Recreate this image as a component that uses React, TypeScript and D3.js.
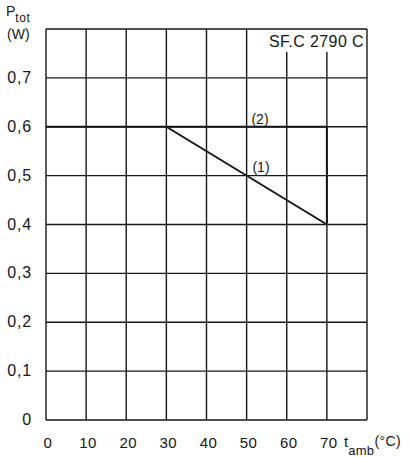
import * as d3 from 'd3'
import React from 'react'

// ambient temperature grid (°C) and power grid (W)
const tempTicks = [0, 10, 20, 30, 40, 50, 60, 70, 80]
const tempLabels = ['0', '10', '20', '30', '40', '50', '60', '70']
const powerTicks = [0, 0.1, 0.2, 0.3, 0.4, 0.5, 0.6, 0.7, 0.8]
const powerLabels = ['0', '0,1', '0,2', '0,3', '0,4', '0,5', '0,6', '0,7']

// derating curves
const curve1Temp = [0, 30, 70]
const curve1Power = [0.6, 0.6, 0.4]
const curve2Temp = [30, 70, 70]
const curve2Power = [0.6, 0.6, 0.4]

const W = 411
const H = 457
const FONT = '"Liberation Sans", Arial, Helvetica, sans-serif'

export default function App() {
  const ref = React.useRef<SVGSVGElement>(null)

  React.useEffect(() => {
    const svg = d3.select(ref.current)
    svg.selectAll('*').remove()

    const x = d3.scaleLinear().domain([0, 80]).range([46, 367])
    const y = d3.scaleLinear().domain([0, 0.8]).range([420, 29])
    const ink = '#161616'

    const grid = svg.append('g').attr('stroke', ink).attr('stroke-width', 1.4)

    // horizontal lines
    grid.selectAll('.h')
      .data(powerTicks)
      .enter().append('line')
      .attr('x1', x(0)).attr('x2', x(80))
      .attr('y1', d => y(d)).attr('y2', d => y(d))

    // vertical lines, 60 and 70 leave room for the type label
    grid.selectAll('.v')
      .data(tempTicks)
      .enter().append('line')
      .attr('x1', d => x(d)).attr('x2', d => x(d))
      .attr('y1', d => (d === 60 || d === 70 ? y(0.8) + 23 : y(0.8)))
      .attr('y2', y(0))

    const line = d3.line<number>()
      .x(d => x(d))

    const drawCurve = (ts: number[], ps: number[]) => {
      svg.append('path')
        .attr('d', line.y((_, i) => y(ps[i]))(ts))
        .attr('fill', 'none')
        .attr('stroke', ink)
        .attr('stroke-width', 2)
        .attr('stroke-linejoin', 'round')
    }
    drawCurve(curve1Temp, curve1Power)
    drawCurve(curve2Temp, curve2Power)

    const text = svg.append('g')
      .attr('fill', ink)
      .attr('font-family', FONT)

    text.selectAll('.yl')
      .data(powerLabels)
      .enter().append('text')
      .attr('x', 32)
      .attr('y', (_, i) => y(powerTicks[i]) + 5)
      .attr('text-anchor', 'end')
      .attr('font-size', 16)
      .attr('letter-spacing', 0.8)
      .text(d => d)

    text.selectAll('.xl')
      .data(tempLabels)
      .enter().append('text')
      .attr('x', (_, i) => x(tempTicks[i]) + 2)
      .attr('y', 448)
      .attr('text-anchor', 'middle')
      .attr('font-size', 15)
      .attr('letter-spacing', 0.5)
      .text(d => d)

    // axis titles
    const yt = text.append('text').attr('x', 6).attr('y', 16).attr('font-size', 14)
    yt.append('tspan').text('P')
    yt.append('tspan').attr('dy', 6).attr('font-size', 12).attr('letter-spacing', 0.6).text('tot')
    text.append('text').attr('x', 7).attr('y', 39).attr('font-size', 14).text('(W)')

    const xt = text.append('text').attr('x', 344).attr('y', 447).attr('font-size', 15)
    xt.append('tspan').text('t')
    xt.append('tspan').attr('dy', 8).attr('font-size', 13).attr('letter-spacing', 0.3).text('amb')
    xt.append('tspan').attr('dy', -9).attr('font-size', 14).attr('letter-spacing', 0.4).text('(°C)')

    text.append('text')
      .attr('x', 364).attr('y', 47)
      .attr('text-anchor', 'end')
      .attr('font-size', 16)
      .attr('letter-spacing', 0.4)
      .text('SF.C 2790 C')

    text.append('text').attr('x', 260).attr('y', 124).attr('text-anchor', 'middle').attr('font-size', 14).text('(2)')
    text.append('text').attr('x', 261).attr('y', 172).attr('text-anchor', 'middle').attr('font-size', 14).text('(1)')
  })

  return (
    <div style={{ position: 'absolute', left: 0, top: 0, background: '#fff' }}>
      <svg ref={ref} width={W} height={H} style={{ display: 'block' }} />
    </div>
  )
}
